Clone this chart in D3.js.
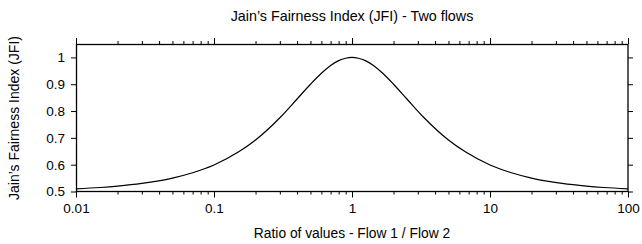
<!DOCTYPE html>
<html>
<head>
<meta charset="utf-8">
<script src="https://cdn.jsdelivr.net/npm/d3@7"></script>
<style>
body { margin: 0; background: #fff; }
text { font-family: "Liberation Sans", Arial, sans-serif; fill: #000; }
</style>
</head>
<body>
<script>
// values
var ratios = [0.01, 0.015, 0.02, 0.03, 0.05, 0.07, 0.1, 0.15, 0.2, 0.3, 0.4, 0.5, 0.6, 0.7, 0.8, 0.9, 1,
              1.11, 1.25, 1.43, 1.67, 2, 2.5, 3.33, 5, 6.67, 10, 14.3, 20, 33.3, 50, 66.7, 100];
var jfi = [0.51, 0.515, 0.52, 0.53, 0.55, 0.57, 0.599, 0.647, 0.692, 0.775, 0.845, 0.9, 0.941, 0.970, 0.988, 0.997, 1,
           0.997, 0.988, 0.970, 0.941, 0.9, 0.845, 0.775, 0.692, 0.647, 0.599, 0.57, 0.55, 0.53, 0.52, 0.515, 0.51];
var xTicks = [0.01, 0.1, 1, 10, 100];
var yTicks = [0.5, 0.6, 0.7, 0.8, 0.9, 1];

var svg = d3.select('body').append('svg')
    .attr('width', 642)
    .attr('height', 244);

var x = d3.scaleLog().domain([0.01, 100]).range([76, 628]);
var y = d3.scaleLinear().domain([0.5, 1.05]).range([191.5, 44]);

// minor ticks for log axis
var minor = [];
[0.01, 0.1, 1, 10].forEach(function (d) {
    for (var k = 2; k < 10; k++) minor.push(d * k);
});

function styleAxis(g) {
    g.select('.domain').remove();
    g.selectAll('line').attr('stroke', '#000');
    g.selectAll('text').attr('font-size', 13.5).attr('font-family', '"Liberation Sans", Arial, sans-serif');
}

// bottom
svg.append('g').attr('transform', 'translate(0,191.5)')
    .call(d3.axisBottom(x).tickValues(minor).tickSize(3).tickFormat(''))
    .call(styleAxis);
svg.append('g').attr('transform', 'translate(0,191.5)')
    .call(d3.axisBottom(x).tickValues(xTicks).tickSize(6).tickPadding(6).tickFormat(d3.format('~g')))
    .call(styleAxis);
// top
svg.append('g').attr('transform', 'translate(0,44)')
    .call(d3.axisTop(x).tickValues(minor).tickSize(3).tickFormat(''))
    .call(styleAxis);
svg.append('g').attr('transform', 'translate(0,44)')
    .call(d3.axisTop(x).tickValues(xTicks).tickSize(6).tickFormat(''))
    .call(styleAxis);
// left
svg.append('g').attr('transform', 'translate(76,0)')
    .call(d3.axisLeft(y).tickValues(yTicks).tickSize(5).tickPadding(6).tickFormat(d3.format('~g')))
    .call(styleAxis);
// right
svg.append('g').attr('transform', 'translate(628,0)')
    .call(d3.axisRight(y).tickValues(yTicks).tickSize(5).tickFormat(''))
    .call(styleAxis);

// frame
svg.append('rect')
    .attr('x', 76.5).attr('y', 44.5)
    .attr('width', 551.5).attr('height', 147)
    .attr('fill', 'none')
    .attr('stroke', '#000')
    .attr('stroke-width', 1.3);

// curve
var line = d3.line()
    .x(function (d, i) { return x(ratios[i]); })
    .y(function (d) { return y(d); })
    .curve(d3.curveMonotoneX);

svg.append('path')
    .datum(jfi)
    .attr('d', line)
    .attr('fill', 'none')
    .attr('stroke', '#000')
    .attr('stroke-width', 1.2);

// titles
svg.append('text')
    .attr('x', 352).attr('y', 21)
    .attr('text-anchor', 'middle')
    .attr('font-size', 14.3)
    .text('Jain\u2019s Fairness Index (JFI) - Two flows');

svg.append('text')
    .attr('x', 352).attr('y', 238)
    .attr('text-anchor', 'middle')
    .attr('font-size', 13.8)
    .text('Ratio of values - Flow 1 / Flow 2');

svg.append('text')
    .attr('transform', 'translate(19,118) rotate(-90)')
    .attr('text-anchor', 'middle')
    .attr('font-size', 14)
    .text('Jain\u2019s Fairness Index (JFI)');
</script>
</body>
</html>
